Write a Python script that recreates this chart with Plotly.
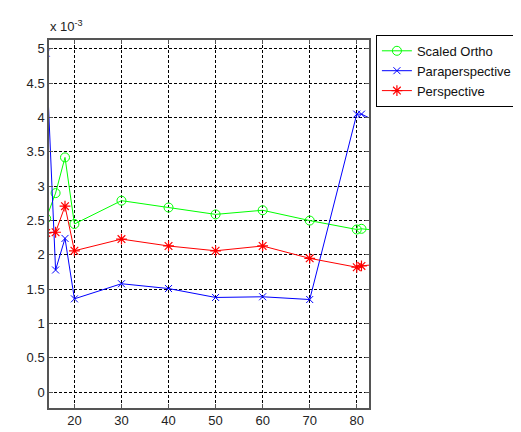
import plotly.graph_objects as go

# x positions (first and last points lie just outside the visible axis range)
x_vals = [14, 16, 18, 20, 30, 40, 50, 60, 70, 80, 81, 84]

# values in units of 1e-3
scaled_ortho = [2.53, 2.90, 3.42, 2.45, 2.79, 2.69, 2.59, 2.65, 2.50, 2.37, 2.38, 2.36]
paraperspective = [4.94, 1.78, 2.24, 1.36, 1.58, 1.51, 1.38, 1.39, 1.35, 4.05, 4.05, 3.95]
perspective = [2.32, 2.33, 2.71, 2.06, 2.23, 2.13, 2.06, 2.13, 1.95, 1.82, 1.84, 1.86]

series_names = ["Scaled Ortho", "Paraperspective", "Perspective"]

x_ticks = [20, 30, 40, 50, 60, 70, 80]
y_ticks = [0, 0.5, 1, 1.5, 2, 2.5, 3, 3.5, 4, 4.5, 5]
y_tick_labels = ["0", "0.5", "1", "1.5", "2", "2.5", "3", "3.5", "4", "4.5", "5"]

FONT = "Liberation Sans, Arial, sans-serif"

fig = go.Figure()
fig.add_trace(go.Scatter(
    x=x_vals, y=scaled_ortho, name=series_names[0], mode="lines+markers",
    line=dict(color="#00ff00", width=1),
    marker=dict(symbol="circle-open", size=9, color="#00ff00", line=dict(width=1)),
))
fig.add_trace(go.Scatter(
    x=x_vals, y=paraperspective, name=series_names[1], mode="lines+markers",
    line=dict(color="#0000ff", width=1),
    marker=dict(symbol="x-thin-open", size=7, color="#0000ff", line=dict(width=1, color="#0000ff")),
))
fig.add_trace(go.Scatter(
    x=x_vals, y=perspective, name=series_names[2], mode="lines+markers",
    line=dict(color="#ff0000", width=1),
    marker=dict(symbol="asterisk-open", size=9, color="#ff0000", line=dict(width=1.2, color="#ff0000")),
))

axis_common = dict(
    showline=True, linecolor="#555555", linewidth=1.5, mirror="ticks",
    ticks="inside", ticklen=4, tickcolor="#555555",
    showgrid=True, gridcolor="#000000", gridwidth=1, griddash="3px,2px",
    zeroline=False,
    tickfont=dict(family=FONT, size=13, color="#222222"),
)

fig.update_xaxes(range=[14.6, 82.6], tickvals=x_ticks, **axis_common)
fig.update_yaxes(range=[-0.23, 5.13], tickvals=y_ticks, ticktext=y_tick_labels, **axis_common)

fig.add_annotation(
    text="x 10<sup>-3</sup>", xref="paper", yref="paper", x=-0.003, y=1.01,
    xanchor="left", yanchor="bottom", showarrow=False,
    font=dict(family=FONT, size=13, color="#222222"),
)

fig.update_layout(
    width=521, height=432,
    margin=dict(l=41, r=156, t=32, b=24),
    paper_bgcolor="white", plot_bgcolor="white",
    font=dict(family=FONT, size=13, color="#000000"),
    legend=dict(
        x=1.0216, y=1.014, xanchor="left", yanchor="top",
        bordercolor="#000000", borderwidth=1, bgcolor="white",
        font=dict(family=FONT, size=13, color="#111111"), tracegroupgap=0, itemwidth=30,
    ),
    showlegend=True,
)

fig.write_html("out.html")
